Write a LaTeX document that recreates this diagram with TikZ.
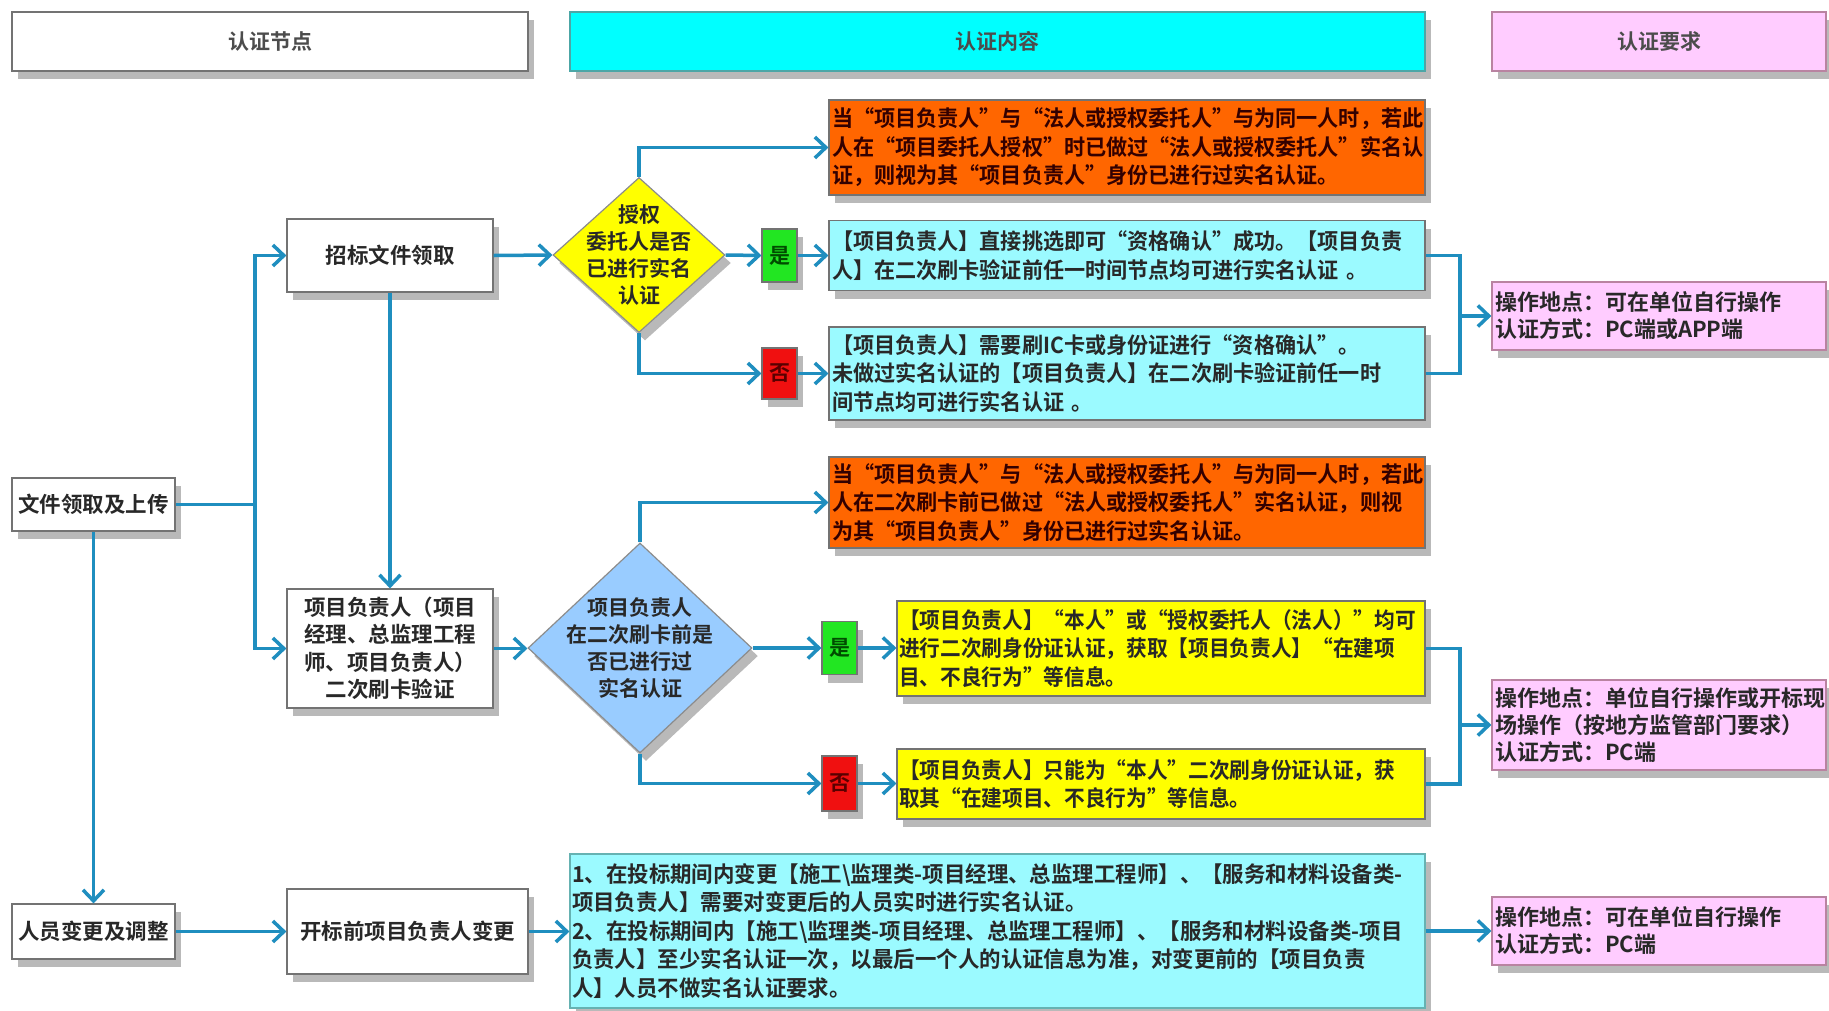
\documentclass[tikz,border=0pt]{standalone}
\usepackage{fontspec}
\setmainfont{Noto Sans CJK SC}[BoldFont={* Bold}]
\newfontfamily\narrowcjk{Noto Sans CJK SC}[BoldFont={* Bold},FakeStretch=0.96]
\newfontfamily\ycjk{Noto Sans CJK SC}[BoldFont={* Bold},FakeStretch=0.94]
\newfontfamily\cbcjk{Noto Sans CJK SC}[BoldFont={* Bold},FakeStretch=0.975]
\usetikzlibrary{arrows.meta,shapes.geometric,shadows}
\definecolor{conn}{RGB}{31,142,191}
\definecolor{orangebox}{RGB}{255,102,0}
\definecolor{cyanbox}{RGB}{155,250,255}
\definecolor{cyanhead}{RGB}{0,255,255}
\definecolor{pinkbox}{RGB}{255,204,255}
\definecolor{yellowbox}{RGB}{255,255,0}
\definecolor{bluedia}{RGB}{153,204,255}
\definecolor{greentag}{RGB}{34,230,34}
\definecolor{redtag}{RGB}{240,16,16}
\definecolor{txt}{RGB}{40,40,40}
\begin{document}
\begin{tikzpicture}[x=1pt,y=-1pt,
  shad/.style={drop shadow={shadow xshift=6pt,shadow yshift=-8pt,fill=black!50,opacity=0.55}},
  base/.style={draw=black!55,line width=1.2pt,inner sep=0pt,shad},
  head/.style={base,minimum height=59pt,font=\bfseries\fontsize{21}{26}\selectfont,text=black!70},
  flow/.style={base,fill=white,align=center,text=txt,font=\bfseries\fontsize{21.5}{27.5}\selectfont},
  content/.style={base,align=left,anchor=center,font=\narrowcjk\bfseries\fontsize{22}{28.5}\selectfont,text=txt},
  req/.style={base,fill=pinkbox,draw=black!50!magenta!60,align=left,text=txt,font=\bfseries\fontsize{22}{27}\selectfont},
  tag/.style={base,minimum width=35pt,minimum height=53pt,font=\bfseries\fontsize{21}{24}\selectfont},
  dia/.style={diamond,draw=black!45,line width=1.2pt,inner sep=0pt,shad},
  diatext/.style={align=center,text=txt,font=\bfseries\fontsize{21}{27}\selectfont,inner sep=0pt},
  arr/.style={draw=conn,line width=3.5pt,-{Straight Barb[length=11pt,width=21pt,line width=3.5pt]}},
  ln/.style={draw=conn,line width=3.5pt}
]
\useasboundingbox (0,0) rectangle (1829,1010);
\fill[white] (0,0) rectangle (1829,1010);

% headers
\node[head,fill=white,minimum width=516pt] (h1) at (270,41.5) {认证节点};
\node[head,fill=cyanhead,draw=teal!70,minimum width=855pt] (h2) at (997.5,41.5) {认证内容};
\node[head,fill=pinkbox,draw=black!50!magenta!60,minimum width=334pt] (h3) at (1659,41.5) {认证要求};

% left column
\node[flow,minimum width=163pt,minimum height=53pt] (n1) at (93.5,504.5) {文件领取及上传};
\node[flow,minimum width=163pt,minimum height=55pt] (n2) at (93.5,931.5) {人员变更及调整};
\node[flow,minimum width=206pt,minimum height=73pt] (zb) at (390,255.5) {招标文件领取};
\node[flow,minimum width=206pt,minimum height=119pt] (fz) at (390,648.5) {项目负责人（项目\\经理、总监理工程\\师、项目负责人）\\二次刷卡验证};
\node[flow,minimum width=241pt,minimum height=85pt] (bg) at (407.5,931.5) {开标前项目负责人变更};

% diamonds
\node[dia,fill=yellowbox,minimum width=172pt,minimum height=155pt] (d1) at (639,255) {};
\node[diatext] (d1t) at (d1.center) {授权\\委托人是否\\已进行实名\\认证};
\node[dia,fill=bluedia,minimum width=224pt,minimum height=210pt] (d2) at (640,648) {};
\node[diatext] (d2t) at (d2.center) {项目负责人\\在二次刷卡前是\\否已进行过\\实名认证};

% tags
\node[tag,fill=greentag,text=green!30!black] (s1) at (779.5,255.5) {是};
\node[tag,fill=redtag,text=red!35!black,minimum height=51pt] (f1) at (779.5,373.5) {否};
\node[tag,fill=greentag,text=green!30!black] (s2) at (839.5,648) {是};
\node[tag,fill=redtag,text=red!35!black,minimum height=55pt] (f2) at (839.5,783.5) {否};

% content boxes
\node[content,fill=orangebox,text=black!80!red,minimum width=596pt,minimum height=95pt,text width=590pt] (o1) at (1127,147.5) {当“项目负责人”与“法人或授权委托人”与为同一人时，若此\\人在“项目委托人授权”时已做过“法人或授权委托人”实名认\\证，则视为其“项目负责人”身份已进行过实名认证。};
\node[content,fill=cyanbox,minimum width=596pt,minimum height=70pt,text width=590pt] (c1) at (1127,255.5) {【项目负责人】直接挑选即可“资格确认”成功。【项目负责\\人】在二次刷卡验证前任一时间节点均可进行实名认证 。};
\node[content,fill=cyanbox,minimum width=596pt,minimum height=93pt,text width=590pt] (c2) at (1127,373.5) {【项目负责人】需要刷IC卡或身份证进行“资格确认”。\\未做过实名认证的【项目负责人】在二次刷卡验证前任一时\\间节点均可进行实名认证 。};
\node[content,fill=orangebox,text=black!80!red,minimum width=596pt,minimum height=91pt,text width=590pt] (o2) at (1127,502.5) {当“项目负责人”与“法人或授权委托人”与为同一人时，若此\\人在二次刷卡前已做过“法人或授权委托人”实名认证，则视\\为其“项目负责人”身份已进行过实名认证。};
\node[content,font=\ycjk\bfseries\fontsize{22}{28.5}\selectfont,fill=yellowbox,minimum width=528pt,minimum height=95pt,text width=524pt] (y1) at (1161,648.5) {【项目负责人】“本人”或“授权委托人（法人）”均可\\进行二次刷身份证认证，获取【项目负责人】“在建项\\目、不良行为”等信息。};
\node[content,font=\ycjk\bfseries\fontsize{22}{28.5}\selectfont,fill=yellowbox,minimum width=528pt,minimum height=70pt,text width=524pt] (y2) at (1161,784) {【项目负责人】只能为“本人”二次刷身份证认证，获\\取其“在建项目、不良行为”等信息。};
\node[content,font=\cbcjk\bfseries\fontsize{22}{28.5}\selectfont,fill=cyanbox,draw=teal!60,minimum width=855pt,minimum height=154pt,text width=851pt] (cb) at (997.5,931) {1、在投标期间内变更【施工\textbackslash 监理类-项目经理、总监理工程师】、【服务和材料设备类-\\项目负责人】需要对变更后的人员实时进行实名认证。\\2、在投标期间内【施工\textbackslash 监理类-项目经理、总监理工程师】、【服务和材料设备类-项目\\负责人】至少实名认证一次，以最后一个人的认证信息为准，对变更前的【项目负责\\人】人员不做实名认证要求。};

% requirement boxes
\node[req,minimum width=334pt,minimum height=68pt,text width=328pt] (p1) at (1659,316) {操作地点：可在单位自行操作\\认证方式：PC端或APP端};
\node[req,minimum width=334pt,minimum height=90pt,text width=328pt] (p2) at (1659,725) {操作地点：单位自行操作或开标现\\场操作（按地方监管部门要求）\\认证方式：PC端};
\node[req,minimum width=334pt,minimum height=68pt,text width=328pt] (p3) at (1659,931) {操作地点：可在单位自行操作\\认证方式：PC端};

% connectors
\coordinate (j1) at (255,504.5);
\draw[ln] (n1.east) -- (j1);
\draw[arr] (j1) |- (zb.west);
\draw[arr] (j1) |- (fz.west);
\draw[arr] (zb.south) -- (fz.north);
\draw[arr] (n1.south) -- (n2.north);
\draw[arr] (n2.east) -- (n2.east -| bg.west);
\draw[arr] (bg.east) -- (bg.east -| cb.west);
\draw[arr] (cb.east) -- (cb.east -| p3.west);

\draw[arr] (zb.east) -- (d1.west);
\draw[arr] (d1.north) |- (o1.west);
\draw[arr] (d1.east) -- (s1.west);
\draw[arr] (s1.east) -- (s1.east -| c1.west);
\draw[arr] (d1.south) |- (f1.west);
\draw[arr] (f1.east) -- (f1.east -| c2.west);

\coordinate (b1) at (1460,316);
\draw[ln] (c1.east) -| (b1);
\draw[ln] (c2.east) -| (b1);
\draw[arr] (b1) -- (p1.west);

\draw[arr] (fz.east) -- (fz.east -| d2.west);
\draw[arr] (d2.north) |- (o2.west);
\draw[arr] (d2.east) -- (s2.west);
\draw[arr] (s2.east) -- (s2.east -| y1.west);
\draw[arr] (d2.south) |- (f2.west);
\draw[arr] (f2.east) -- (f2.east -| y2.west);

\coordinate (b2) at (1460,725);
\draw[ln] (y1.east) -| (b2);
\draw[ln] (y2.east) -| (b2);
\draw[arr] (b2) -- (p2.west);
\end{tikzpicture}
\end{document}
